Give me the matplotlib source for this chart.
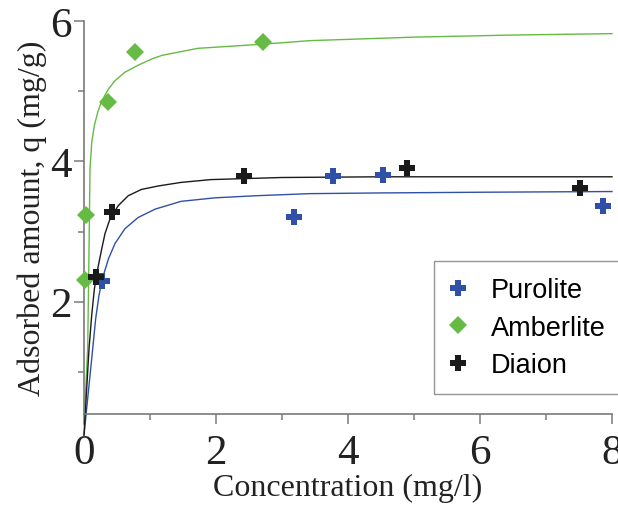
import matplotlib
matplotlib.use("Agg")
import matplotlib.pyplot as plt
from matplotlib.ticker import MultipleLocator

purolite_x = [0.28, 3.18, 3.77, 4.53, 7.86]
purolite_y = [2.30, 3.21, 3.79, 3.81, 3.37]
amberlite_x = [0.01, 0.03, 0.36, 0.78, 2.71]
amberlite_y = [2.31, 3.24, 4.85, 5.56, 5.70]
diaion_x = [0.18, 0.43, 2.43, 4.89, 7.51]
diaion_y = [2.35, 3.28, 3.79, 3.91, 3.62]

# fitted curves
purolite_fit_x = [0.0, 0.132, 0.177, 0.227, 0.279, 0.37, 0.47, 0.62, 0.82, 1.08,
                  1.47, 1.98, 2.6, 3.42, 4.5, 6.0, 8.0]
purolite_fit_y = [0.10, 1.33, 1.76, 2.09, 2.33, 2.61, 2.83, 3.04, 3.20, 3.32,
                  3.43, 3.48, 3.51, 3.54, 3.55, 3.56, 3.57]
amberlite_fit_x = [0.0, 0.056, 0.07, 0.082, 0.091, 0.117, 0.157, 0.208, 0.268, 0.37,
                   0.47, 0.62, 0.82, 1.03, 1.18, 1.72, 2.71, 3.42, 5.0, 6.5, 8.0]
amberlite_fit_y = [0.25, 1.33, 2.30, 3.20, 3.89, 4.27, 4.51, 4.70, 4.86, 5.03,
                   5.15, 5.27, 5.37, 5.46, 5.51, 5.61, 5.67, 5.72, 5.77, 5.80, 5.82]
diaion_fit_x = [0.0, 0.076, 0.117, 0.157, 0.208, 0.268, 0.318, 0.394, 0.52, 0.67,
                0.87, 1.13, 1.47, 1.92, 3.0, 4.5, 8.0]
diaion_fit_y = [0.10, 1.33, 1.81, 2.18, 2.47, 2.75, 2.97, 3.18, 3.37, 3.51,
                3.60, 3.65, 3.70, 3.74, 3.77, 3.78, 3.78]

blue = "#3050a8"
green = "#66bb44"
black = "#1a1a1a"
grey = "#7a7a7a"

fig = plt.figure(figsize=(6.18, 5.06), dpi=100)
ax = fig.add_axes([84 / 618, 1 - 415 / 506, 528 / 618, 393 / 506])

# curves
ax.plot(purolite_fit_x, purolite_fit_y, color=blue, lw=1.0, clip_on=False)
ax.plot(amberlite_fit_x, amberlite_fit_y, color=green, lw=1.0, clip_on=False)
ax.plot(diaion_fit_x, diaion_fit_y, color=black, lw=1.0, clip_on=False)

# points
ax.plot(purolite_x, purolite_y, "P", color=blue, ms=12, mew=0, ls="none",
        label="Purolite", clip_on=False, zorder=5)
ax.plot(amberlite_x, amberlite_y, "D", color=green, ms=9, mew=0, ls="none",
        label="Amberlite", clip_on=False, zorder=5)
ax.plot(diaion_x, diaion_y, "P", color=black, ms=12, mew=0, ls="none",
        label="Diaion", clip_on=False, zorder=5)

ax.set_xlim(0, 8)
ax.set_ylim(0.4, 6)
ax.xaxis.set_major_locator(MultipleLocator(2))
ax.xaxis.set_minor_locator(MultipleLocator(1))
ax.yaxis.set_major_locator(MultipleLocator(2))
ax.yaxis.set_minor_locator(MultipleLocator(1))

for s in ["top", "right"]:
    ax.spines[s].set_visible(False)
for s in ["left", "bottom"]:
    ax.spines[s].set_color(grey)
    ax.spines[s].set_linewidth(1.2)

ax.tick_params(which="major", length=7, width=1.1, color=grey, direction="out")
ax.tick_params(which="minor", length=4.5, width=1.1, color=grey, direction="out")
ax.tick_params(axis="x", which="major", pad=7)
ax.tick_params(axis="y", which="major", pad=2)

for lab in ax.get_xticklabels() + ax.get_yticklabels():
    lab.set_fontfamily("Liberation Serif")
    lab.set_fontsize(31)
    lab.set_color("#222222")

ax.set_xlabel("Concentration (mg/l)", fontfamily="Liberation Serif", fontsize=23,
              color="#222222", labelpad=1)
ax.set_ylabel("Adsorbed amount, q (mg/g)", fontfamily="Liberation Serif", fontsize=23,
              color="#222222", labelpad=2)

leg = ax.legend(loc="upper left", bbox_to_anchor=(434 / 618, 1 - 262 / 506),
                bbox_transform=fig.transFigure,
                prop={"family": "Liberation Sans", "size": 19.5},
                frameon=True, fancybox=False, borderpad=0.6, labelspacing=0.42,
                handletextpad=0.9, borderaxespad=0, handlelength=0.6)
leg.get_frame().set_edgecolor(grey)
leg.get_frame().set_linewidth(1.0)

fig.savefig("out.png", dpi=100)
